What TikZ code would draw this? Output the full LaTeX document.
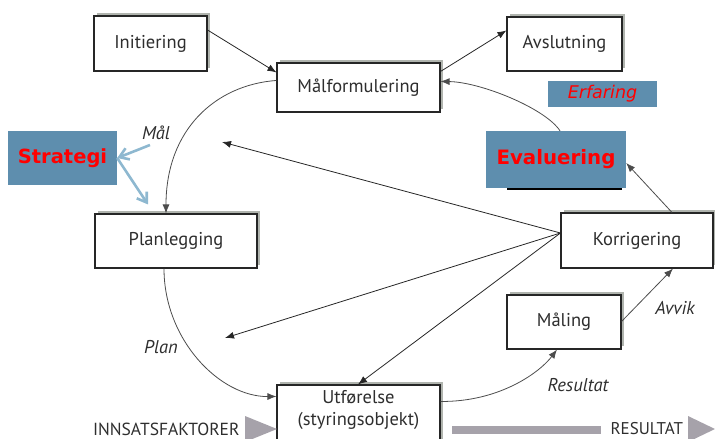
\documentclass[tikz,border=0pt]{standalone}
\usepackage{fontspec}
\setmainfont{PT Sans}
\newfontfamily\dvsans{DejaVu Sans}
\usetikzlibrary{shadows,arrows.meta,calc}
\definecolor{txt}{HTML}{2E2E2E}
\definecolor{shade}{HTML}{B0B4AE}
\definecolor{sblue}{HTML}{5E8EAE}
\definecolor{lblue}{HTML}{8EB8D0}
\definecolor{bargray}{HTML}{A6A2AA}
\tikzset{
  box/.style={draw=black!85, line width=1.1pt, fill=white, inner sep=0pt,
    text=txt, font=\fontsize{18.5}{21}\selectfont,
    drop shadow={shadow xshift=3pt, shadow yshift=3pt, fill=shade, opacity=1}},
  bluebox/.style={fill=sblue, inner sep=0pt, text=red},
  lab/.style={font=\fontsize{18.5}{21}\selectfont\itshape, text=txt},
  arr/.style={draw=black!85, line width=0.8pt, -{Latex[length=9pt,width=7pt]}},
  barr/.style={draw=lblue, line width=2.6pt, -{Straight Barb[length=9pt,width=12pt,line width=2.6pt]}},
}
\begin{document}
\begin{tikzpicture}[x=1pt,y=-1pt]
\useasboundingbox (0,0) rectangle (715,439);
% boxes
\node[box, minimum width=113pt, minimum height=55pt] (init) at (150.5,43.5) {Initiering};
\node[box, minimum width=163pt, minimum height=49pt] (malf) at (358.5,87.5) {Målformulering};
\node[box, minimum width=115pt, minimum height=54pt] (avsl) at (564.5,44) {Avslutning};
\node[box, minimum width=162pt, minimum height=54pt] (plan) at (176,241) {Planlegging};
\node[box, minimum width=152pt, minimum height=55pt] (korr) at (637,240.5) {Korrigering};
\node[box, minimum width=114pt, minimum height=54pt] (maal) at (564,322) {Måling};
\node[box, minimum width=163pt, minimum height=66pt] (utf) at (358.5,418) {};
\node[text=txt, font=\fontsize{18.5}{21}\selectfont, align=center] (utftxt) at (358.5,410) {Utførelse\\(styringsobjekt)};
% evaluering underlying bar
\draw[shade, line width=2pt] (507,189) -- (622,189);
% blue boxes
\node[bluebox, minimum width=109pt, minimum height=54pt, font=\dvsans\bfseries\fontsize{19.5}{22}\selectfont] (strat) at (62.5,158) {Strategi};
\node[bluebox, minimum width=140pt, minimum height=57pt, font=\dvsans\bfseries\fontsize{19.8}{22}\selectfont] (eval) at (556,159.5) {Evaluering};
\node[bluebox, minimum width=109pt, minimum height=26pt, font=\dvsans\itshape\fontsize{17.5}{20}\selectfont] (erf) at (602.5,94) {Erfaring};
% labels
\node[lab] (lmal) at (156,133) {Mål};
\node[lab] (lplan) at (161,347) {Plan};
\node[lab] (lres) at (578,385) {Resultat};
\node[lab] (lavv) at (675,308) {Avvik};
% connectors
\draw[arr] ([yshift=13.5pt]init.east) -- ([yshift=-10pt]malf.north west);
\draw[arr] ([yshift=-9pt]malf.north east) -- ([yshift=-14pt]avsl.north west);
\draw[arr, draw=black!70] ([xshift=4pt]eval.north) .. controls (545,108) and (480,82) .. ([yshift=-19pt]malf.north east);
\draw[arr, draw=black!70] ([yshift=-18pt]malf.north west) .. controls (215,85) and (166,130) .. ([xshift=-10pt]plan.north);
\draw[arr, draw=black!70] ([xshift=-12pt]plan.south) .. controls (164,340) and (220,397) .. ([yshift=-12pt]utf.north west);
\draw[arr, draw=black!70] ([yshift=-17pt]utf.north east) .. controls (500,402) and (540,372) .. ([xshift=-7pt]maal.south);
\draw[arr, draw=black!70] ([yshift=-27pt]maal.north east) -- ([xshift=36pt]korr.south);
\draw[arr, draw=black!70] ([xshift=35pt]korr.north) -- ([yshift=-3.5pt]eval.east);
\coordinate (kl) at ([yshift=7.5pt]korr.west);
\coordinate (t1) at (222,142);
\coordinate (t2) at (225,338);
\draw[arr] (kl) -- (t1);
\draw[arr] (kl) -- (t2);
\draw[arr] (kl) -- ([xshift=-0.5pt]utf.north);
% strategi arrows
\coordinate (ms) at (150,145);
\coordinate (pt) at ([xshift=-28pt,yshift=9pt]plan.north);
\draw[barr] (ms) -- (strat.east);
\draw[barr] (strat.east) -- (pt);
% bottom flow
\node[text=txt, font=\fontsize{17.5}{20}\selectfont, anchor=east] (inn) at (243,429) {INNSATSFAKTORER};
\fill[bargray] (245,416) -- (277,429) -- (245,442) -- cycle;
\fill[bargray] (452,426) rectangle (601,434);
\node[text=txt, font=\fontsize{17}{20}\selectfont, anchor=west] (res) at (607,429) {RESULTAT};
\fill[bargray] (688,416) -- (715,429) -- (688,442) -- cycle;
\end{tikzpicture}
\end{document}
